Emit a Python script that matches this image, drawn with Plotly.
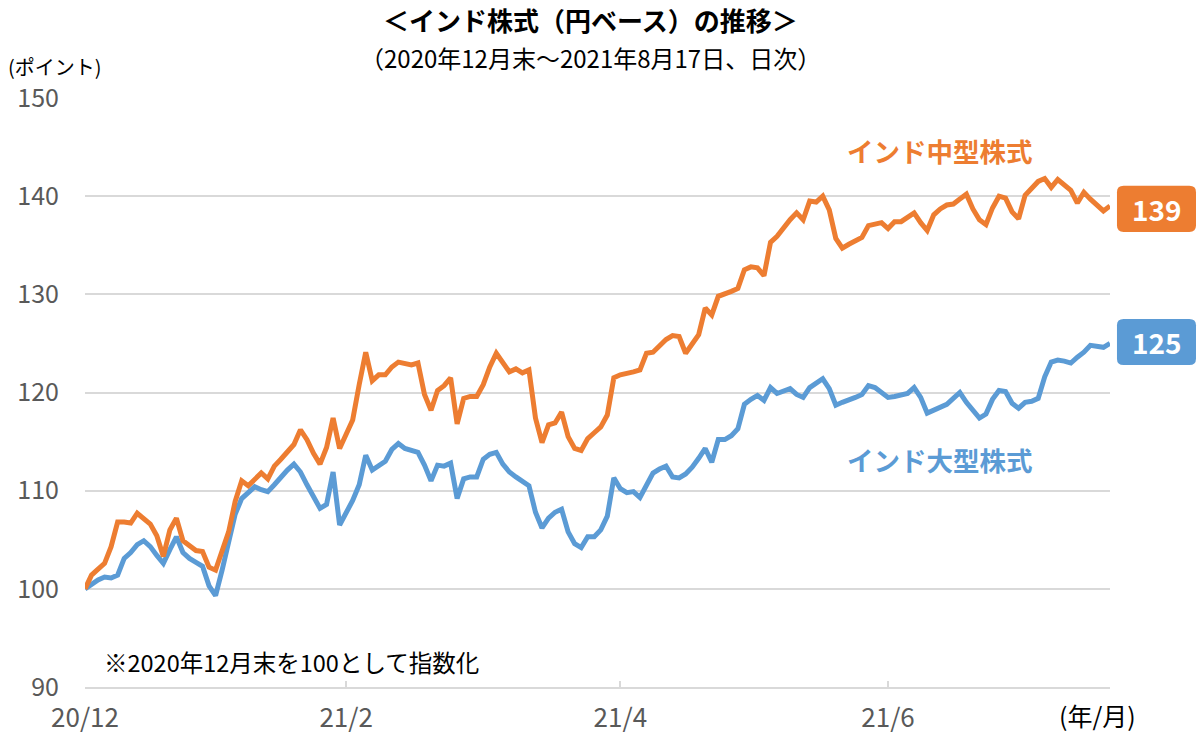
import plotly.graph_objects as go

# ---- data (index level, 2020-12-end = 100), trading days ----
mid_cap = [
    100.0, 101.4, 102.0, 102.6, 104.3, 106.8, 106.8, 106.7, 107.7, 107.2,
    106.6, 105.4, 103.3, 106.0, 107.2, 104.9, 104.4, 103.9, 103.8, 102.2,
    101.9, 103.7, 105.8, 108.9, 111.0, 110.5, 111.2, 111.8, 111.2, 112.5,
    113.2, 113.9, 114.7, 116.2, 115.2, 113.8, 112.7, 114.4, 117.4, 114.3,
    115.7, 117.2, 120.8, 124.1, 121.2, 121.8, 121.8, 122.6, 123.1, 123.0,
    122.8, 123.0, 119.8, 118.2, 120.2, 120.7, 121.5, 116.8, 119.4, 119.6,
    119.6, 120.8, 122.6, 124.0, 123.1, 122.1, 122.4, 122.0, 122.3, 117.4,
    114.9, 116.7, 116.9, 118.0, 115.5, 114.3, 114.1, 115.3, 115.9, 116.5,
    117.7, 121.5, 121.8, 121.9, 122.1, 122.3, 124.0, 124.1, 124.8, 125.4,
    125.8, 125.7, 124.0, 125.0, 125.9, 128.6, 127.9, 129.8, 130.0, 130.3,
    130.6, 132.5, 132.8, 132.7, 131.9, 135.3, 135.9, 136.8, 137.6, 138.3,
    137.6, 139.5, 139.4, 140.0, 138.6, 135.7, 134.7, 135.1, 135.5, 135.8,
    137.0, 137.1, 137.3, 136.7, 137.4, 137.4, 137.9, 138.3, 137.3, 136.5,
    138.1, 138.7, 139.1, 139.2, 139.7, 140.2, 138.7, 137.6, 137.1, 138.8,
    140.0, 139.8, 138.4, 137.7, 140.1, 140.8, 141.5, 141.8, 140.9, 141.7,
    141.2, 140.6, 139.3, 140.4, 139.7, 139.1, 138.5, 139.0,
]
large_cap = [
    100.0, 100.5, 100.9, 101.2, 101.1, 101.4, 103.1, 103.7, 104.5, 104.9,
    104.3, 103.4, 102.6, 104.0, 105.3, 103.7, 103.1, 102.7, 102.3, 100.3,
    99.3, 101.9, 104.5, 107.6, 109.2, 109.8, 110.4, 110.1, 109.9, 110.6,
    111.4, 112.1, 112.7, 111.9, 110.6, 109.4, 108.2, 108.6, 111.9, 106.5,
    107.8, 109.0, 110.6, 113.6, 112.1, 112.5, 113.0, 114.2, 114.8, 114.3,
    114.1, 113.9, 112.6, 111.0, 112.6, 112.5, 112.8, 109.2, 111.2, 111.4,
    111.4, 113.2, 113.7, 113.9, 112.7, 111.9, 111.4, 111.0, 110.5, 107.8,
    106.2, 107.2, 107.8, 108.1, 105.8, 104.6, 104.2, 105.3, 105.3, 106.0,
    107.4, 111.3, 110.2, 109.8, 109.9, 109.3, 110.5, 111.8, 112.2, 112.5,
    111.4, 111.3, 111.7, 112.4, 113.3, 114.3, 112.9, 115.2, 115.2, 115.6,
    116.3, 118.8, 119.3, 119.7, 119.2, 120.5, 119.9, 120.1, 120.4, 119.8,
    119.5, 120.5, 120.9, 121.4, 120.4, 118.7, 119.0, 119.2, 119.5, 119.8,
    120.7, 120.5, 120.0, 119.5, 119.6, 119.8, 119.9, 120.5, 119.5, 117.9,
    118.2, 118.4, 118.8, 119.4, 120.0, 119.0, 118.1, 117.4, 117.8, 119.3,
    120.2, 120.1, 118.9, 118.4, 119.0, 119.1, 119.4, 121.6, 123.1, 123.3,
    123.2, 123.0, 123.6, 124.1, 124.8, 124.7, 124.6, 125.0,
]
days = list(range(len(mid_cap)))
tick_positions = [0, 40, 82, 123]
tick_labels = ["20/12", "21/2", "21/4", "21/6"]
y_ticks = [90, 100, 110, 120, 130, 140, 150]

ORANGE = "#ED7D31"
BLUE = "#5B9BD5"
GRID = "#D9D9D9"
AXIS_TXT = "#595959"
FONT = "Noto Sans CJK JP"

fig = go.Figure()
fig.add_trace(go.Scatter(x=days, y=large_cap, mode="lines", name="インド大型株式",
                         line=dict(color=BLUE, width=5), cliponaxis=False))
fig.add_trace(go.Scatter(x=days, y=mid_cap, mode="lines", name="インド中型株式",
                         line=dict(color=ORANGE, width=5), cliponaxis=False))

fig.update_layout(
    width=1197, height=733,
    margin=dict(l=85, r=87, t=98, b=46, autoexpand=False),
    paper_bgcolor="white", plot_bgcolor="white",
    showlegend=False,
    font=dict(family=FONT, color=AXIS_TXT),
)
fig.update_xaxes(
    range=[0, len(days) - 1], tickvals=tick_positions, ticktext=tick_labels,
    showgrid=False, zeroline=False, showline=True, linecolor=GRID, linewidth=2,
    ticks="inside", ticklen=6, tickcolor=GRID, tickwidth=1.5, automargin=False,
    tickfont=dict(size=26, color=AXIS_TXT, family=FONT), ticklabelstandoff=7,
)
fig.update_yaxes(
    range=[90, 150], tickvals=y_ticks, showgrid=True, gridcolor=GRID, gridwidth=2,
    zeroline=False, showline=False, ticks="", automargin=False,
    tickfont=dict(size=25, color=AXIS_TXT, family=FONT), ticklabelstandoff=25,
)

# rounded value boxes at the end of each line
def rounded_box(yc, color):
    x0, x1 = 1.0068, 1.0839
    h = 2.35  # half height in data units
    rx, ry = 0.0065, 0.65
    y0, y1 = yc - h, yc + h
    path = (f"M {x0+rx},{y0} L {x1-rx},{y0} Q {x1},{y0} {x1},{y0+ry} "
            f"L {x1},{y1-ry} Q {x1},{y1} {x1-rx},{y1} L {x0+rx},{y1} "
            f"Q {x0},{y1} {x0},{y1-ry} L {x0},{y0+ry} Q {x0},{y0} {x0+rx},{y0} Z")
    return dict(type="path", path=path, xref="paper", yref="y",
                fillcolor=color, line=dict(width=0), layer="above")

fig.add_shape(rounded_box(mid_cap[-1] - 0.3, ORANGE))
fig.add_shape(rounded_box(large_cap[-1] + 0.15, BLUE))

def note(text, x, y, size, color, xref="paper", yref="paper", xanchor="center"):
    return dict(text=text, x=x, y=y, xref=xref, yref=yref, xanchor=xanchor,
                yanchor="middle", showarrow=False,
                font=dict(size=size, color=color, family=FONT))

ann = [
    note("<b>＜インド株式（円ベース）の推移＞</b>", 0.493, 1.133, 26, "#000000"),
    note("（2020年12月末～2021年8月17日、日次）", 0.493, 1.069, 24, "#000000"),
    note("(ポイント)", -0.077, 1.054, 20, "#000000", xanchor="left"),
    note("(年/月)", 0.988, -0.048, 25, "#000000"),
    note("※2020年12月末を100として指数化", 0.017, 0.042, 23.5, "#000000", xanchor="left"),
    note("<b>インド中型株式</b>", 0.834, 144.7, 26.5, ORANGE, yref="y"),
    note("<b>インド大型株式</b>", 0.834, 113.2, 26.5, BLUE, yref="y"),
    note(f"<b>{round(mid_cap[-1])}</b>", 1.0454, mid_cap[-1] - 0.3, 28, "white", yref="y"),
    note(f"<b>{round(large_cap[-1])}</b>", 1.0454, large_cap[-1] + 0.15, 28, "white", yref="y"),
]
fig.update_layout(annotations=ann)

# remove the page's default body margin so the figure sits at the window origin
fig.write_html("out.html", config={"displayModeBar": False},
               post_script="document.body.style.margin='0px';")
